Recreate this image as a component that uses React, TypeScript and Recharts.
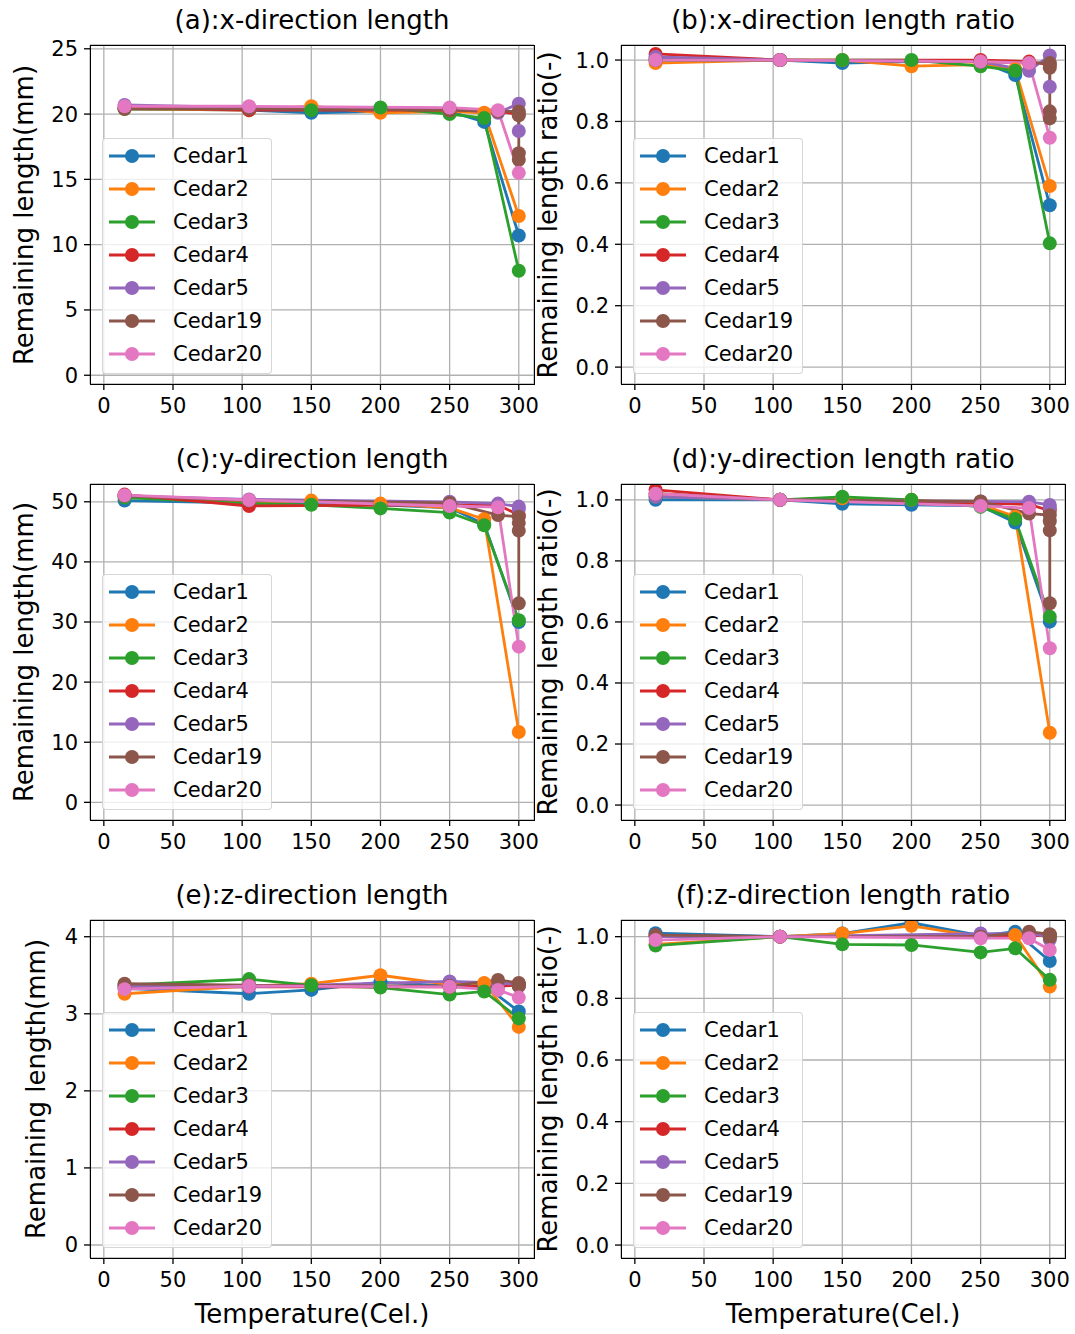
import { LineChart, Line, XAxis, YAxis, CartesianGrid, Legend } from 'recharts'

const SERIES = ['Cedar1', 'Cedar2', 'Cedar3', 'Cedar4', 'Cedar5', 'Cedar19', 'Cedar20']
const COLORS = ['#1f77b4', '#ff7f0e', '#2ca02c', '#d62728', '#9467bd', '#8c564b', '#e377c2']

// temperatures (Cel.) at which each specimen was measured
const TEMPS: number[][] = [
  [15, 105, 150, 200, 250, 275, 300],
  [15, 105, 150, 200, 250, 275, 300],
  [15, 105, 150, 200, 250, 275, 300],
  [15, 105, 250, 285, 300],
  [15, 105, 250, 285, 300, 300],
  [15, 105, 250, 285, 300, 300, 300, 300],
  [15, 105, 250, 285, 300],
]

const X_TICKS = [0, 50, 100, 150, 200, 250, 300]

// (a) x-direction length (mm)
const X_LENGTH: number[][] = [
  [20.4, 20.3, 20.1, 20.2, 20.2, 19.4, 10.7],
  [20.4, 20.3, 20.6, 20.1, 20.2, 20.1, 12.2],
  [20.4, 20.4, 20.3, 20.5, 20.0, 19.7, 8.0],
  [20.5, 20.3, 20.3, 20.2, 20.0],
  [20.7, 20.5, 20.4, 20.1, 20.8, 18.7],
  [20.4, 20.4, 20.3, 20.2, 20.2, 19.9, 17.0, 16.5],
  [20.6, 20.6, 20.5, 20.3, 15.5],
]

// (b) x-direction length ratio
const X_RATIO: number[][] = [
  [1.005, 1.0, 0.99, 0.995, 0.995, 0.951, 0.527],
  [0.99, 1.0, 1.0, 0.98, 0.985, 0.97, 0.59],
  [1.0, 1.0, 1.0, 1.0, 0.98, 0.965, 0.403],
  [1.02, 1.0, 1.0, 0.995, 0.985],
  [1.01, 1.0, 0.995, 0.965, 1.015, 0.913],
  [1.0, 1.0, 0.995, 0.99, 0.99, 0.975, 0.833, 0.81],
  [1.0, 1.0, 0.995, 0.99, 0.747],
]

// (c) y-direction length (mm)
const Y_LENGTH: number[][] = [
  [50.2, 49.8, 49.8, 49.5, 49.0, 46.3, 30.0],
  [51.0, 49.8, 50.2, 49.7, 49.0, 47.1, 11.7],
  [50.7, 49.7, 49.5, 48.9, 48.2, 46.1, 30.3],
  [51.2, 49.3, 49.5, 49.5, 47.8],
  [51.0, 50.4, 50.0, 49.7, 49.2, 48.8],
  [51.0, 50.2, 49.8, 47.8, 47.5, 46.5, 45.2, 33.1],
  [51.1, 50.3, 49.3, 49.1, 25.9],
]

// (d) y-direction length ratio
const Y_RATIO: number[][] = [
  [1.0, 1.0, 0.987, 0.984, 0.98, 0.926, 0.601],
  [1.02, 1.0, 1.005, 1.0, 0.985, 0.945, 0.237],
  [1.01, 1.0, 1.01, 1.0, 0.977, 0.937, 0.617],
  [1.033, 1.0, 0.99, 0.985, 0.965],
  [1.01, 1.0, 0.995, 0.994, 0.983, 0.975],
  [1.02, 1.0, 0.995, 0.955, 0.95, 0.93, 0.9, 0.661],
  [1.02, 1.0, 0.98, 0.973, 0.514],
]

// (e) z-direction length (mm)
const Z_LENGTH: number[][] = [
  [3.33, 3.26, 3.31, 3.41, 3.36, 3.37, 3.03],
  [3.26, 3.36, 3.39, 3.5, 3.38, 3.4, 2.83],
  [3.37, 3.45, 3.37, 3.34, 3.25, 3.29, 2.94],
  [3.36, 3.35, 3.35, 3.36, 3.37],
  [3.36, 3.35, 3.42, 3.4, 3.38, 3.36],
  [3.39, 3.37, 3.36, 3.44, 3.4, 3.38, 3.37, 3.36],
  [3.32, 3.36, 3.35, 3.31, 3.21],
]

// (f) z-direction length ratio
const Z_RATIO: number[][] = [
  [1.011, 1.0, 1.01, 1.045, 1.003, 1.016, 0.921],
  [0.975, 1.0, 1.01, 1.035, 1.0, 1.005, 0.838],
  [0.971, 1.0, 0.975, 0.973, 0.949, 0.962, 0.86],
  [1.003, 1.0, 1.0, 1.003, 1.005],
  [1.0, 1.0, 1.01, 1.01, 1.0, 0.99],
  [1.005, 1.0, 1.0, 1.016, 1.008, 1.003, 1.0, 0.998],
  [0.989, 1.0, 0.995, 0.995, 0.957],
]

const RATIO_TICKS = [0, 0.2, 0.4, 0.6, 0.8, 1.0]

const FONT = '"DejaVu Sans", sans-serif'
const YW = 70
const XH = 50
const MT = 20
const MR = 30
const PLOT_W = 444

type PanelDef = {
  title: string
  values: number[][]
  left: number
  top: number
  h: number
  domain: [number, number]
  ticks: number[]
  digits: number
  yLabel: string
  yLabelX: number
  xLabel: boolean
}

const PANELS: PanelDef[] = [
  { title: '(a):x-direction length', values: X_LENGTH, left: 90, top: 45, h: 339, domain: [-0.67, 25.29], ticks: [0, 5, 10, 15, 20, 25], digits: 0, yLabel: 'Remaining length(mm)', yLabelX: 24, xLabel: false },
  { title: '(b):x-direction length ratio', values: X_RATIO, left: 621, top: 45, h: 339, domain: [-0.055, 1.049], ticks: RATIO_TICKS, digits: 1, yLabel: 'Remaining length ratio(-)', yLabelX: 548, xLabel: false },
  { title: '(c):y-direction length', values: Y_LENGTH, left: 90, top: 484, h: 336, domain: [-2.94, 52.96], ticks: [0, 10, 20, 30, 40, 50], digits: 0, yLabel: 'Remaining length(mm)', yLabelX: 24, xLabel: false },
  { title: '(d):y-direction length ratio', values: Y_RATIO, left: 621, top: 484, h: 336, domain: [-0.049, 1.052], ticks: RATIO_TICKS, digits: 1, yLabel: 'Remaining length ratio(-)', yLabelX: 548, xLabel: false },
  { title: '(e):z-direction length', values: Z_LENGTH, left: 90, top: 920, h: 338, domain: [-0.169, 4.217], ticks: [0, 1, 2, 3, 4], digits: 0, yLabel: 'Remaining length(mm)', yLabelX: 36, xLabel: true },
  { title: '(f):z-direction length ratio', values: Z_RATIO, left: 621, top: 920, h: 338, domain: [-0.042, 1.054], ticks: RATIO_TICKS, digits: 1, yLabel: 'Remaining length ratio(-)', yLabelX: 548, xLabel: true },
]

function LegendBox() {
  return (
    <div
      style={{
        width: 170,
        height: 236,
        boxSizing: 'border-box',
        background: 'rgba(255,255,255,0.8)',
        border: '1px solid rgba(204,204,204,0.8)',
        borderRadius: 4,
        fontFamily: FONT,
        fontSize: 21,
        color: '#000',
      }}
    >
      {SERIES.map((name, i) => (
        <div key={name} style={{ display: 'flex', alignItems: 'center', height: 33 }}>
          <svg width={46} height={16} style={{ marginLeft: 6, marginRight: 18 }}>
            <line x1={0} y1={8} x2={46} y2={8} stroke={COLORS[i]} strokeWidth={2.8} />
            <circle cx={23} cy={8} r={7} fill={COLORS[i]} />
          </svg>
          <span>{name}</span>
        </div>
      ))}
    </div>
  )
}

function Panel({ p }: { p: PanelDef }) {
  const tickStyle = { fontSize: 21, fill: '#000', fontFamily: FONT }
  const cx = p.left + PLOT_W / 2
  const cy = p.top + p.h / 2
  return (
    <>
      <div
        style={{
          position: 'absolute',
          left: cx - 250,
          top: p.top - 40,
          width: 500,
          height: 30,
          lineHeight: '30px',
          textAlign: 'center',
          fontFamily: FONT,
          fontSize: 26,
          color: '#000',
          whiteSpace: 'nowrap',
        }}
      >
        {p.title}
      </div>
      <div
        style={{
          position: 'absolute',
          left: p.yLabelX - 200,
          top: cy - 15,
          width: 400,
          height: 30,
          lineHeight: '30px',
          textAlign: 'center',
          fontFamily: FONT,
          fontSize: 26,
          color: '#000',
          whiteSpace: 'nowrap',
          transform: 'rotate(-90deg)',
        }}
      >
        {p.yLabel}
      </div>
      {p.xLabel && (
        <div
          style={{
            position: 'absolute',
            left: cx - 200,
            top: 1299,
            width: 400,
            height: 30,
            lineHeight: '30px',
            textAlign: 'center',
            fontFamily: FONT,
            fontSize: 26,
            color: '#000',
          }}
        >
          Temperature(Cel.)
        </div>
      )}
      <div style={{ position: 'absolute', left: p.left - YW, top: p.top - MT }}>
        <LineChart
          width={PLOT_W + YW + MR}
          height={p.h + MT + XH}
          margin={{ top: MT, right: MR, left: 0, bottom: 0 }}
        >
          <CartesianGrid stroke="#b0b0b0" strokeWidth={1.3} />
          <XAxis
            type="number"
            dataKey="x"
            domain={[-10, 311]}
            ticks={X_TICKS}
            interval={0}
            allowDataOverflow
            height={XH}
            axisLine={false}
            tickLine={{ stroke: '#000', strokeWidth: 1.3 }}
            tickSize={6}
            tickMargin={8}
            tick={tickStyle}
          />
          <YAxis
            type="number"
            dataKey="y"
            domain={p.domain}
            ticks={p.ticks}
            interval={0}
            allowDataOverflow
            width={YW}
            axisLine={false}
            tickLine={{ stroke: '#000', strokeWidth: 1.3 }}
            tickSize={6}
            tickMargin={6}
            tick={tickStyle}
            tickFormatter={(v: number) => v.toFixed(p.digits)}
          />
          {SERIES.map((name, i) => (
            <Line
              key={name}
              name={name}
              data={TEMPS[i].map((t, j) => ({ x: t, y: p.values[i][j] }))}
              dataKey="y"
              type="linear"
              stroke={COLORS[i]}
              strokeWidth={2.8}
              dot={{ r: 7, fill: COLORS[i], stroke: COLORS[i], strokeWidth: 0 }}
              activeDot={false}
              isAnimationActive={false}
            />
          ))}
          <Legend
            layout="vertical"
            align="center"
            verticalAlign="middle"
            content={() => <LegendBox />}
            wrapperStyle={{ left: YW + 12, top: MT + p.h - 10 - 236, width: 170, height: 236 }}
          />
        </LineChart>
        <div
          style={{
            position: 'absolute',
            left: YW - 0.5,
            top: MT - 0.5,
            width: PLOT_W + 1,
            height: p.h + 1,
            border: '1.4px solid #000',
            boxSizing: 'border-box',
            pointerEvents: 'none',
          }}
        />
      </div>
    </>
  )
}

export default function App() {
  return (
    <div
      style={{
        position: 'absolute',
        left: 0,
        top: 0,
        width: 1075,
        height: 1334,
        background: '#fff',
        overflow: 'hidden',
      }}
    >
      {PANELS.map((p) => (
        <Panel key={p.title} p={p} />
      ))}
    </div>
  )
}
